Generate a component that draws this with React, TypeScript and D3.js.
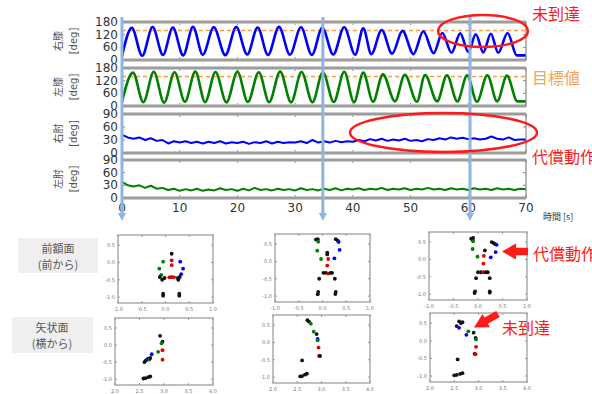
import * as d3 from 'd3'

// knee angle extremes (time [s], angle [deg])
const rightKneeT = [0, 1.7, 3.5, 5.3, 7.1, 8.8, 10.6, 12.3, 14.0, 15.9, 17.9, 19.8, 21.7, 23.5, 25.3, 27.2, 29.1, 31.0, 32.9, 34.7, 36.6, 38.5, 40.4, 41.8, 43.2, 45.0, 46.8, 48.6, 50.5, 52.2, 54.0, 55.5, 57.1, 58.6, 60.0, 61.3, 62.6, 63.9, 65.2, 66.8, 68.4, 70]
const rightKneeV = [18, 152, 20, 156, 24, 154, 22, 157, 25, 155, 23, 156, 26, 154, 24, 157, 25, 155, 24, 153, 26, 155, 25, 150, 28, 142, 30, 138, 28, 136, 32, 128, 34, 126, 38, 122, 36, 124, 34, 128, 22, 22]

const leftKneeT = [0, 1.9, 3.7, 5.5, 7.3, 9.1, 10.9, 12.7, 14.4, 16.2, 18.1, 20.0, 21.8, 23.7, 25.5, 27.4, 29.3, 31.1, 33.0, 34.8, 36.7, 38.5, 40.2, 41.8, 43.5, 45.2, 47.3, 49.0, 51.1, 52.5, 54.6, 56.3, 58.1, 59.8, 61.5, 63.3, 65.0, 66.7, 68.5, 70]
const leftKneeV = [20, 158, 18, 162, 16, 160, 20, 163, 18, 161, 17, 162, 19, 160, 18, 163, 17, 161, 18, 160, 19, 162, 18, 158, 20, 150, 22, 148, 20, 147, 22, 146, 21, 145, 20, 146, 22, 144, 22, 22]

// elbow angles, one value per second 0..70
const rightElbowV = [42, 36, 33, 36, 30, 34, 28, 30, 22, 27, 24, 27, 23, 26, 22, 26, 23, 27, 22, 25, 23, 26, 21, 25, 23, 27, 22, 26, 23, 25, 24, 27, 23, 30, 24, 27, 24, 28, 25, 27, 26, 30, 27, 32, 29, 33, 28, 31, 29, 33, 28, 30, 27, 32, 30, 34, 31, 36, 33, 35, 32, 34, 31, 33, 38, 33, 31, 36, 30, 31, 31]
const leftElbowV = [38, 30, 27, 30, 24, 29, 22, 24, 19, 22, 17, 21, 18, 22, 17, 20, 18, 23, 19, 21, 17, 22, 18, 24, 19, 21, 18, 22, 19, 21, 18, 23, 19, 21, 18, 22, 19, 23, 18, 22, 20, 23, 19, 22, 20, 24, 19, 22, 20, 23, 19, 22, 20, 24, 20, 22, 19, 23, 20, 22, 19, 23, 20, 22, 19, 23, 20, 22, 19, 22, 21]

const timeTicks = [0, 10, 20, 30, 40, 50, 60, 70]
const kneeTicks = [0, 60, 120, 180]
const elbowTicks = [0, 30, 60, 90]
const targetAngle = 140
const snapshotTimes = [0, 34.8, 60.3]

// marker positions of body points: [part, x, y]
type P = [string, number, number]
const frontal0: P[] = [
  ['k', 0.13, 0.25], ['r', 0.13, 0.06], ['r', 0.13, -0.08], ['g', -0.05, 0.02], ['g', -0.13, -0.18], ['g', -0.09, -0.36],
  ['b', 0.31, 0.02], ['b', 0.37, -0.18], ['b', 0.33, -0.34], ['k', -0.12, -0.42], ['k', -0.07, -0.5], ['k', -0.02, -0.45],
  ['r', 0.08, -0.43], ['r', 0.13, -0.42], ['r', 0.18, -0.43], ['k', 0.26, -0.45], ['k', 0.3, -0.42], ['k', 0.27, -0.5],
  ['k', -0.05, -0.9], ['k', -0.05, -0.96], ['k', 0.29, -0.9], ['k', 0.29, -0.96]
]
const frontal35: P[] = [
  ['k', -0.14, 0.63], ['k', -0.1, 0.64], ['g', -0.09, 0.57], ['k', 0.28, 0.64], ['k', 0.32, 0.6], ['b', 0.34, 0.56],
  ['g', -0.11, 0.31], ['b', 0.36, 0.33], ['g', -0.03, 0.07], ['b', 0.25, 0.09], ['k', 0.1, 0.25], ['k', 0.1, 0.2],
  ['r', 0.12, 0.07], ['r', 0.1, -0.12], ['k', 0.02, -0.33], ['k', 0.07, -0.33], ['r', 0.12, -0.35], ['k', 0.17, -0.33],
  ['k', 0.2, -0.33], ['k', -0.07, -0.5], ['k', 0.26, -0.5], ['k', -0.09, -0.88], ['k', -0.1, -0.95], ['k', 0.28, -0.88], ['k', 0.27, -0.94]
]
const frontal60: P[] = [
  ['k', -0.14, 0.6], ['k', -0.1, 0.62], ['k', -0.11, 0.56], ['g', -0.1, 0.52], ['k', 0.28, 0.5], ['k', 0.32, 0.47],
  ['k', 0.35, 0.44], ['b', 0.38, 0.42], ['g', -0.11, 0.3], ['b', 0.36, 0.21], ['g', -0.01, 0.08], ['b', 0.26, 0.06],
  ['k', 0.14, 0.26], ['r', 0.12, 0.1], ['r', 0.11, -0.12], ['k', 0.0, -0.37], ['k', 0.06, -0.37], ['r', 0.11, -0.37],
  ['k', 0.16, -0.37], ['k', 0.2, -0.37], ['k', -0.04, -0.54], ['k', 0.24, -0.54], ['k', -0.06, -0.92], ['k', -0.07, -0.97],
  ['k', 0.24, -0.92], ['k', 0.24, -0.96]
]
const sagittal0: P[] = [
  ['k', 2.92, 0.27], ['k', 2.97, 0.1], ['g', 2.95, 0.05], ['r', 2.97, -0.15], ['g', 2.88, -0.2], ['r', 2.97, -0.43],
  ['b', 2.75, -0.27], ['k', 2.6, -0.5], ['k', 2.63, -0.45], ['b', 2.66, -0.42], ['k', 2.68, -0.4], ['g', 2.7, -0.43],
  ['k', 2.72, -0.38], ['k', 2.58, -0.98], ['k', 2.62, -0.97], ['k', 2.68, -0.94], ['k', 2.72, -0.92]
]
const sagittal35: P[] = [
  ['k', 2.71, 0.64], ['k', 2.74, 0.6], ['g', 2.78, 0.54], ['g', 2.84, 0.31], ['k', 2.9, 0.24], ['b', 2.92, 0.1],
  ['g', 2.92, 0.06], ['r', 2.94, -0.15], ['r', 2.95, -0.39], ['k', 2.97, -0.39], ['k', 2.6, -0.52], ['k', 2.56, -0.98],
  ['k', 2.6, -0.97], ['k', 2.66, -0.93], ['k', 2.7, -0.9]
]
const sagittal60: P[] = [
  ['k', 2.6, 0.55], ['k', 2.64, 0.5], ['k', 2.67, 0.53], ['k', 2.55, 0.42], ['b', 2.6, 0.37], ['g', 2.79, 0.27],
  ['b', 2.75, 0.17], ['k', 2.9, 0.23], ['k', 2.94, 0.08], ['g', 2.95, 0.04], ['r', 2.95, -0.17], ['k', 2.92, -0.37],
  ['r', 2.94, -0.38], ['k', 2.57, -0.53], ['k', 2.5, -0.98], ['k', 2.55, -0.97], ['k', 2.62, -0.94], ['k', 2.67, -0.92]
]
const frontTicks = [-1, -0.5, 0, 0.5, 1]
const sideTicks = [2, 2.5, 3, 3.5, 4]
const bodyYTicks = [0.5, 0, -0.5, -1]

const partColor: Record<string, string> = { k: '#111', r: '#e00000', g: '#008000', b: '#0000ff' }
const BLUE = '#0000ff'
const GREEN = '#008000'
const RED = '#ff1a1a'
const ORANGE = '#f5a25a'
const SKY = '#8db4e2'
const JP = '"Noto Sans CJK JP", "Noto Sans", sans-serif'
const NUM = '"DejaVu Sans", sans-serif'

const xT = d3.scaleLinear().domain([0, 70]).range([122, 526])
const secs = d3.range(0, 71)

const panels = [
  { name: '右膝', t: rightKneeT, v: rightKneeV, color: BLUE, ticks: kneeTicks, top: 22, bottom: 60, target: true, curve: d3.curveMonotoneX },
  { name: '左膝', t: leftKneeT, v: leftKneeV, color: GREEN, ticks: kneeTicks, top: 68, bottom: 106, target: true, curve: d3.curveMonotoneX },
  { name: '右肘', t: secs, v: rightElbowV, color: BLUE, ticks: elbowTicks, top: 114, bottom: 153, target: false, curve: d3.curveLinear },
  { name: '左肘', t: secs, v: leftElbowV, color: GREEN, ticks: elbowTicks, top: 160, bottom: 198, target: false, curve: d3.curveLinear },
]

const scatters = [
  { pts: frontal0, x0: 118, x1: 213, y0: 235, y1: 303, xt: frontTicks },
  { pts: frontal35, x0: 275, x1: 370, y0: 234, y1: 302, xt: frontTicks },
  { pts: frontal60, x0: 429, x1: 527, y0: 232, y1: 300, xt: frontTicks },
  { pts: sagittal0, x0: 115, x1: 213, y0: 318, y1: 385, xt: sideTicks },
  { pts: sagittal35, x0: 273, x1: 370, y0: 315, y1: 383, xt: sideTicks },
  { pts: sagittal60, x0: 430, x1: 527, y0: 313, y1: 382, xt: sideTicks },
]

function arrow(tx: number, ty: number, fx: number, fy: number, head: number, hw: number, sw: number) {
  const len = Math.hypot(tx - fx, ty - fy)
  const ux = (tx - fx) / len, uy = (ty - fy) / len
  const nx = -uy, ny = ux
  const bx = tx - ux * head, by = ty - uy * head
  const pts = [
    [tx, ty], [bx + nx * hw, by + ny * hw], [bx + nx * sw, by + ny * sw], [fx + nx * sw, fy + ny * sw],
    [fx - nx * sw, fy - ny * sw], [bx - nx * sw, by - ny * sw], [bx - nx * hw, by - ny * hw]
  ]
  return pts.map(p => p.join(',')).join(' ')
}

export default function App() {
  return (
    <svg width={592} height={394} style={{ position: 'absolute', left: 0, top: 0, background: '#fff' }}>
      {panels.map((p, i) => {
        const y = d3.scaleLinear().domain([0, p.ticks[3]]).range([p.bottom, p.top])
        const line = d3.line<number>().x((_, j) => xT(p.t[j])).y(d => y(d)).curve(p.curve)
        const cy = (p.top + p.bottom) / 2
        return (
          <g key={i}>
            {p.ticks.map(tk => (
              <g key={tk}>
                <text x={118} y={y(tk)} textAnchor="end" dominantBaseline="central" fontFamily={NUM} fontSize={12} fill="#333">{tk}</text>
                <line x1={xT(0)} x2={xT(0) + 3} y1={y(tk)} y2={y(tk)} stroke="#888" />
                <line x1={xT(70)} x2={xT(70) - 3} y1={y(tk)} y2={y(tk)} stroke="#888" />
              </g>
            ))}
            {timeTicks.map(tk => (
              <g key={'x' + tk}>
                <line x1={xT(tk)} x2={xT(tk)} y1={p.top} y2={p.top + 3} stroke="#888" />
                <line x1={xT(tk)} x2={xT(tk)} y1={p.bottom} y2={p.bottom - 3} stroke="#888" />
              </g>
            ))}
            {p.target && (
              <line x1={xT(0)} x2={xT(70)} y1={y(targetAngle)} y2={y(targetAngle)} stroke="#ff9a40" strokeWidth={1.5} strokeDasharray="4,3" />
            )}
            <path d={line(p.v) ?? ''} fill="none" stroke={p.color} strokeWidth={p.target ? 2.6 : 2} strokeLinejoin="round" />
            <line x1={xT(0)} x2={xT(70)} y1={p.top} y2={p.top} stroke="#bbb" strokeWidth={3.5} />
            <line x1={xT(0)} x2={xT(70)} y1={p.bottom} y2={p.bottom} stroke="#bbb" strokeWidth={3.5} />
            <rect x={xT(0)} y={p.top} width={xT(70) - xT(0)} height={p.bottom - p.top} fill="none" stroke="#888" strokeWidth={1.2} />
            <text transform={`translate(57,${cy}) rotate(-90)`} textAnchor="middle" dominantBaseline="central" fontFamily={JP} fontSize={10} fill="#555">{p.name}</text>
            <text transform={`translate(73,${cy}) rotate(-90)`} textAnchor="middle" dominantBaseline="central" fontFamily={NUM} fontSize={10} fill="#555">[deg]</text>
          </g>
        )
      })}
      {timeTicks.map(tk => (
        <text key={tk} x={xT(tk)} y={208} textAnchor="middle" dominantBaseline="central" fontFamily={NUM} fontSize={12} fill="#333">{tk}</text>
      ))}
      <text x={543} y={216} dominantBaseline="central" fontFamily={JP} fontSize={9} fill="#333">時間 [s]</text>

      {snapshotTimes.map(t => (
        <g key={t}>
          <line x1={xT(t)} x2={xT(t)} y1={17} y2={215} stroke={SKY} strokeWidth={3} />
          <polygon points={`${xT(t) - 4},213 ${xT(t) + 4},213 ${xT(t)},221`} fill={SKY} />
        </g>
      ))}

      <ellipse cx={483} cy={31} rx={45} ry={16} fill="none" stroke={RED} strokeWidth={2.5} />
      <ellipse cx={443.5} cy={132.5} rx={93.5} ry={19.5} fill="none" stroke={RED} strokeWidth={2.5} />
      <text x={532} y={13} dominantBaseline="central" fontFamily={JP} fontSize={16} fill={RED}>未到達</text>
      <text x={532} y={77} dominantBaseline="central" fontFamily={JP} fontSize={16} fill={ORANGE}>目標値</text>
      <text x={532} y={156} dominantBaseline="central" fontFamily={JP} fontSize={16} fill={RED}>代償動作</text>

      <rect x={18} y={238} width={80} height={35} fill="#efefef" />
      <text x={58} y={248} textAnchor="middle" dominantBaseline="central" fontFamily={JP} fontSize={11} fill="#555">前額面</text>
      <text x={58} y={264} textAnchor="middle" dominantBaseline="central" fontFamily={JP} fontSize={11} fill="#555">(前から)</text>
      <rect x={12} y={317} width={81} height={36} fill="#efefef" />
      <text x={52} y={327} textAnchor="middle" dominantBaseline="central" fontFamily={JP} fontSize={11} fill="#555">矢状面</text>
      <text x={52} y={343} textAnchor="middle" dominantBaseline="central" fontFamily={JP} fontSize={11} fill="#555">(横から)</text>

      {scatters.map((s, i) => {
        const x = d3.scaleLinear().domain([s.xt[0], s.xt[4]]).range([s.x0, s.x1])
        const y = d3.scaleLinear().domain([-1.17, 0.79]).range([s.y1, s.y0])
        return (
          <g key={i}>
            <rect x={s.x0} y={s.y0} width={s.x1 - s.x0} height={s.y1 - s.y0} fill="#fff" stroke="#aaa" strokeWidth={1.5} />
            {s.xt.map(tk => (
              <g key={tk}>
                <line x1={x(tk)} x2={x(tk)} y1={s.y0} y2={s.y0 + 2} stroke="#999" />
                <line x1={x(tk)} x2={x(tk)} y1={s.y1} y2={s.y1 - 2} stroke="#999" />
                <text x={x(tk)} y={s.y1 + 6} textAnchor="middle" dominantBaseline="central" fontFamily={NUM} fontSize={5} fill="#777">{tk.toFixed(1)}</text>
              </g>
            ))}
            {bodyYTicks.map(tk => (
              <g key={tk}>
                <line x1={s.x0} x2={s.x0 + 2} y1={y(tk)} y2={y(tk)} stroke="#999" />
                <line x1={s.x1} x2={s.x1 - 2} y1={y(tk)} y2={y(tk)} stroke="#999" />
                <text x={s.x0 - 3} y={y(tk)} textAnchor="end" dominantBaseline="central" fontFamily={NUM} fontSize={5} fill="#777">{tk.toFixed(1)}</text>
              </g>
            ))}
            {s.pts.map((p, j) => (
              <circle key={j} cx={x(p[1])} cy={y(p[2])} r={1.9} fill={partColor[p[0]]} />
            ))}
          </g>
        )
      })}

      <polygon points={arrow(502, 251.5, 528, 251.5, 14, 8, 3.8)} fill={RED} />
      <text x={533} y={253} dominantBaseline="central" fontFamily={JP} fontSize={16} fill={RED}>代償動作</text>
      <polygon points={arrow(474, 327.5, 498, 314, 14, 7.5, 3.5)} fill={RED} />
      <text x={502} y={327} dominantBaseline="central" fontFamily={JP} fontSize={16} fill={RED}>未到達</text>
    </svg>
  )
}
